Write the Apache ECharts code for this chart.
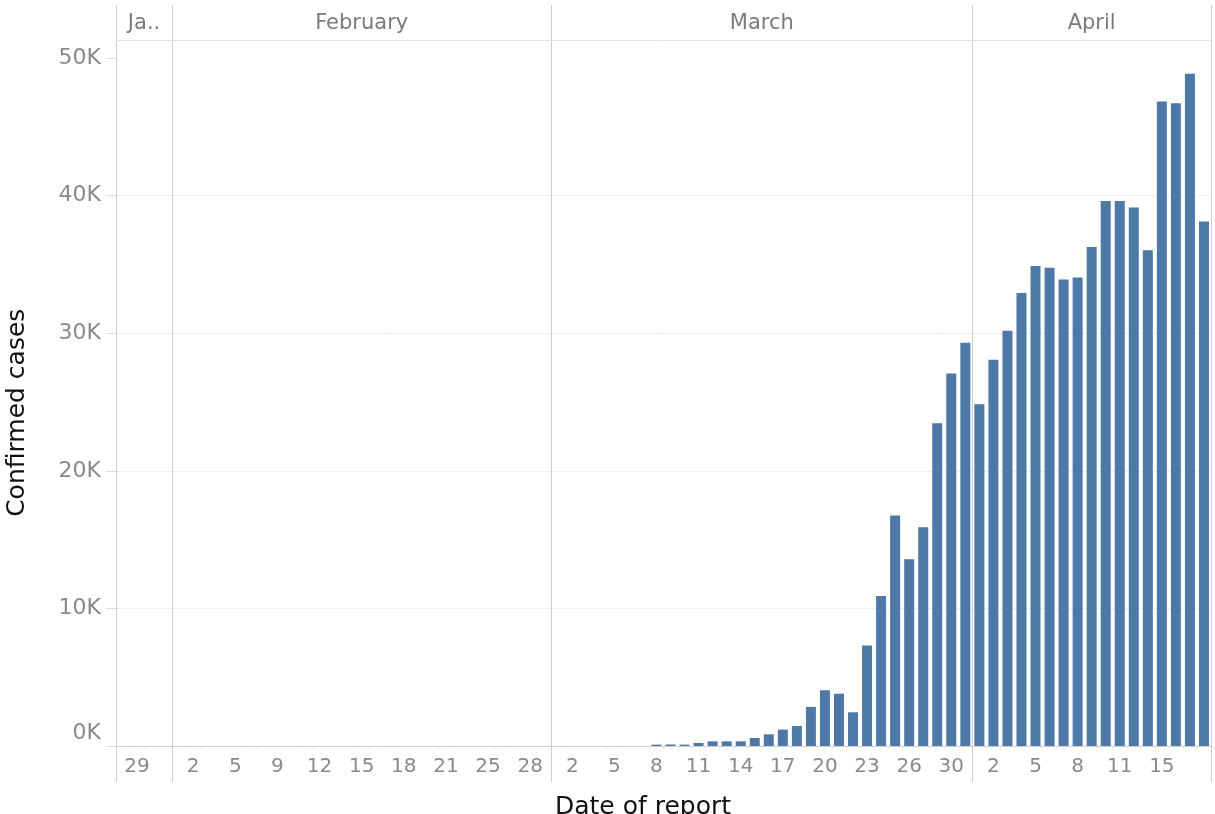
<!DOCTYPE html>
<html>
<head>
<meta charset="utf-8">
<script src="https://cdn.jsdelivr.net/npm/echarts@6/dist/echarts.min.js"></script>
<style>
html,body{margin:0;padding:0;background:#ffffff;}
#chart{width:1215px;height:814px;}
</style>
</head>
<body>
<div id="chart"></div>
<script>
// ---- data ----
const monthHeaders = ['Ja..', 'February', 'March', 'April'];
const janDays  = [28, 29, 30, 31];
const janCases = [0, 0, 0, 0];
const febDays  = [1, 2, 3, 4, 5, 6, 8, 9, 10, 11, 12, 13, 14, 15, 16, 17, 18, 19, 20, 21, 22, 24, 25, 26, 27, 28, 29];
const febCases = [0, 0, 0, 0, 0, 0, 0, 0, 0, 0, 0, 0, 0, 0, 0, 0, 0, 0, 0, 0, 0, 0, 0, 0, 0, 0, 0];
const marDays  = [1, 2, 3, 4, 5, 6, 7, 8, 9, 10, 11, 12, 13, 14, 15, 16, 17, 18, 19, 20, 21, 22, 23, 24, 25, 26, 27, 29, 30, 31];
const marCases = [0, 0, 0, 0, 0, 0, 0, 100, 110, 100, 220, 340, 340, 340, 580, 850, 1190, 1450, 2840, 4050, 3800, 2450, 7300, 10900, 16760, 13570, 15890, 23460, 27070, 29300];
const aprDays  = [1, 2, 3, 4, 5, 6, 7, 8, 9, 10, 11, 12, 13, 15, 16, 17, 18];
const aprCases = [24840, 28070, 30180, 32920, 34890, 34760, 33910, 34040, 36270, 39610, 39610, 39130, 36020, 46840, 46710, 48850, 38110];
const yTickValues = [0, 10000, 20000, 30000, 40000, 50000];

// ---- build categories ----
const monthDays = [janDays, febDays, marDays, aprDays];
const monthCases = [janCases, febCases, marCases, aprCases];
const categories = [];
const values = [];
const monthStart = [];
const shownLabels = new Set();
monthDays.forEach((days, m) => {
  monthStart.push(categories.length);
  days.forEach((d, i) => {
    if (i % 3 === 1) shownLabels.add(categories.length);
    categories.push((m + 1) + '/' + d);
    values.push(monthCases[m][i]);
  });
});
shownLabels.delete(categories.length - 1);

const FONT = 'DejaVu Sans';
const chart = echarts.init(document.getElementById('chart'), null, {renderer: 'canvas'});

const option = {
  animation: false,
  backgroundColor: '#ffffff',
  grid: {left: 116, right: 4, top: 41.5, bottom: 68, containLabel: false, outerBoundsMode: 'none'},
  xAxis: {
    type: 'category',
    data: categories,
    boundaryGap: true,
    axisLine: {show: true, lineStyle: {color: '#cfcfcf', width: 1}},
    axisTick: {show: true, interval: 0, length: 3, lineStyle: {color: '#e6e6e6'}},
    axisLabel: {
      interval: (i) => shownLabels.has(i),
      formatter: (v) => v.split('/')[1],
      color: '#8a8a8a', fontFamily: FONT, fontSize: 20, margin: 11
    },
    splitLine: {show: false},
    name: 'Date of report',
    nameLocation: 'middle',
    nameGap: 49,
    nameTextStyle: {color: '#111', fontFamily: FONT, fontSize: 25, padding: [0, 41, 0, 0]}
  },
  yAxis: {
    type: 'value',
    min: 0, max: 51200, interval: 10000,
    axisLine: {show: true, lineStyle: {color: '#cfcfcf'}},
    axisTick: {show: true, length: 10, customValues: yTickValues, lineStyle: {color: '#dedede'}},
    splitLine: {show: true, showMaxLine: false, showMinLine: false, lineStyle: {color: '#efefef'}},
    axisLabel: {
      customValues: yTickValues,
      formatter: (v) => v === 0 ? '{z|0K}' : (v / 1000) + 'K',
      color: '#8a8a8a', fontFamily: FONT, fontSize: 22, margin: 15,
      rich: {z: {color: '#8a8a8a', fontFamily: FONT, fontSize: 22, padding: [0, 0, 26, 0]}}
    },
    name: 'Confirmed cases',
    nameLocation: 'middle',
    nameGap: 86,
    nameTextStyle: {color: '#111', fontFamily: FONT, fontSize: 25, padding: [0, 38, 0, 0]}
  },
  series: [{
    type: 'bar',
    data: values,
    barWidth: 10,
    itemStyle: {color: '#4e79a7'},
    emphasis: {disabled: true}
  }]
};
chart.setOption(option);

// ---- month panes (derived from the category axis) ----
const px = (i) => chart.convertToPixel({xAxisIndex: 0}, i);
const bw = px(1) - px(0);
const bounds = monthStart.map(i => px(i) - bw / 2);
bounds.push(px(categories.length - 1) + bw / 2);
const graphics = [];
bounds.forEach(x => {
  const cx = Math.round(x) + 0.5;
  graphics.push({type: 'line', silent: true, z: 10,
    shape: {x1: cx, y1: 5, x2: cx, y2: 782},
    style: {stroke: '#cdcdcd', lineWidth: 1}});
});
graphics.push({type: 'line', silent: true, z: 10,
  shape: {x1: bounds[0], y1: 40.5, x2: bounds[bounds.length - 1], y2: 40.5},
  style: {stroke: '#e2e2e2', lineWidth: 1}});
monthHeaders.forEach((t, m) => {
  graphics.push({type: 'text', silent: true, z: 10,
    x: (bounds[m] + bounds[m + 1]) / 2, y: 24,
    style: {text: t, fill: '#7b7b7b', font: '21px "DejaVu Sans"', align: 'center', verticalAlign: 'middle'}});
});
chart.setOption({graphic: graphics});
</script>
</body>
</html>
